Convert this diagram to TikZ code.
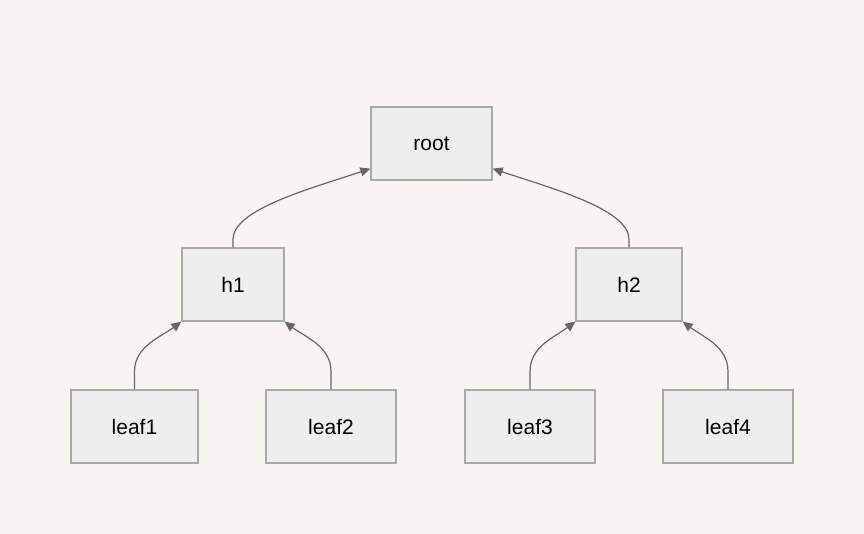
\documentclass[tikz,border=0pt]{standalone}
\usepackage{fontspec}
\setmainfont{Liberation Sans}
\usetikzlibrary{arrows.meta}
\definecolor{bg}{HTML}{F6F5F1}
\definecolor{nodefill}{HTML}{EEEEEE}
\definecolor{nodeline}{HTML}{A9A9A9}
\definecolor{edgecol}{HTML}{666666}
\tikzset{
  box/.style={draw=nodeline, fill=nodefill, line width=1.3pt, minimum height=73pt, inner sep=0pt, font=\fontsize{21}{25}\selectfont},
  arr/.style={draw=edgecol, line width=1.2pt, -{Triangle[length=10pt,width=9pt]}}
}
\begin{document}
\begin{tikzpicture}[x=1pt,y=-1pt]
\fill[bg] (0,0) rectangle (864,534);
\useasboundingbox (0,0) rectangle (864,534);
\node[box, minimum width=121pt] (root) at (431.5,143.5) {root};
\node[box, minimum width=102pt] (h1) at (233,284.5) {h1};
\node[box, minimum width=106pt] (h2) at (629,284.5) {h2};
\node[box, minimum width=127pt] (leaf1) at (134.5,426.5) {leaf1};
\node[box, minimum width=130pt] (leaf2) at (331,426.5) {leaf2};
\node[box, minimum width=130pt] (leaf3) at (530,426.5) {leaf3};
\node[box, minimum width=130pt] (leaf4) at (728,426.5) {leaf4};
\coordinate (rootL) at ([yshift=12pt]root.south west);
\coordinate (rootR) at ([yshift=12pt]root.south east);
\draw[arr] (leaf1.north) -- ++(0,-18) .. controls +(0,-25) and +(-20,15) .. (h1.south west);
\draw[arr] (leaf2.north) -- ++(0,-18) .. controls +(0,-25) and +(20,15) .. (h1.south east);
\draw[arr] (leaf3.north) -- ++(0,-18) .. controls +(0,-25) and +(-20,15) .. (h2.south west);
\draw[arr] (leaf4.north) -- ++(0,-18) .. controls +(0,-25) and +(20,15) .. (h2.south east);
\draw[arr] (h1.north) -- ++(0,-8) .. controls +(0,-30) and +(-60,20) .. (rootL);
\draw[arr] (h2.north) -- ++(0,-8) .. controls +(0,-30) and +(60,20) .. (rootR);
\end{tikzpicture}
\end{document}
